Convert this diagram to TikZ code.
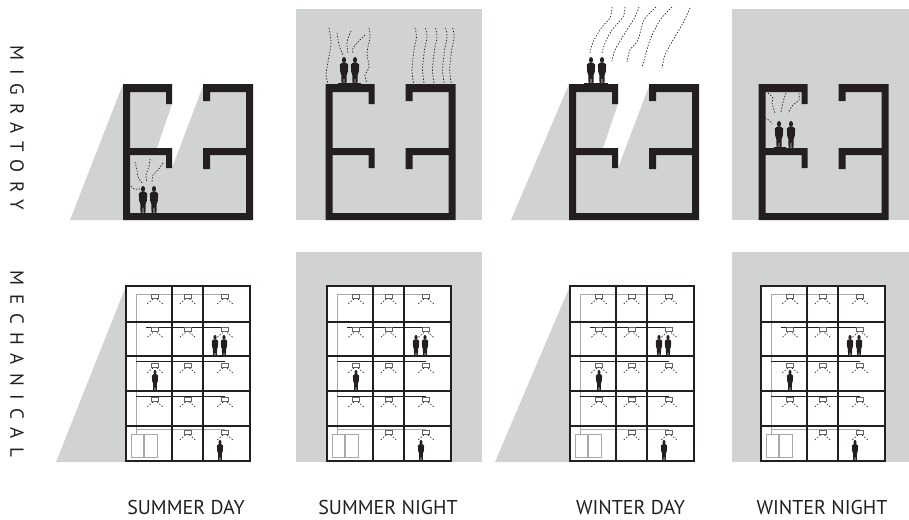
\documentclass[tikz,border=0pt]{standalone}
\usepackage{fontspec}
\setmainfont{PT Sans}
\definecolor{shade}{HTML}{D1D3D2}
\definecolor{ink}{HTML}{231F20}
\definecolor{pipe}{HTML}{A8A8A8}
\tikzset{
  wall/.style={fill=ink,draw=none},
  shadebox/.style={fill=shade,draw=none},
  breeze/.style={draw=ink,line width=.7pt,dash pattern=on 1.4pt off 1.6pt},
  gridline/.style={draw=ink,line width=1.6pt},
  pipeline/.style={draw=pipe,line width=.9pt},
  blackpipe/.style={draw=ink,line width=.7pt},
  caption/.style={font=\fontsize{20}{22}\selectfont,text=ink,inner sep=0pt,anchor=center},
  sidelabel/.style={font=\fontsize{19}{21}\selectfont,text=ink,inner sep=0pt,rotate=-90,anchor=center}
}
\newcommand\person[3]{%
  \begin{scope}[shift={(#1,#2)},x=#3pt,y=#3pt]
    \fill[ink] (-.09,0) -- (-.10,.33) -- (-.14,.45) -- (-.155,.72) -- (-.07,.79) -- (.07,.79) -- (.155,.72) -- (.14,.45) -- (.10,.33) -- (.09,0) -- (.02,0) -- (0,.36) -- (-.02,0) -- cycle;
    \fill[ink] (0,.89) ellipse (.075 and .11);
  \end{scope}}
\newcommand\building[1]{%
  \begin{scope}[xshift=#1pt]
    \fill[wall] (172,104) -- (166,104) -- (166,92) -- (130,92) -- (130,148) -- (172,148) -- (172,168) -- (166,168) -- (166,155) -- (130,155) -- (130,213) -- (246,213) -- (246,155) -- (210,155) -- (210,169) -- (203,169) -- (203,148) -- (246,148) -- (246,92) -- (210,92) -- (210,101) -- (203,101) -- (203,84) -- (253,84) -- (253,220) -- (123,220) -- (123,84) -- (172,84) -- cycle;
  \end{scope}}
\newcommand\acunit[2]{%
  \draw[draw=ink!70,line width=.5pt] (#1-3.5,#2-2) rectangle (#1+3.5,#2+2);
  \draw[breeze,line width=.6pt] (#1-2,#2+3) -- (#1-8,#2+8);
  \draw[breeze,line width=.6pt] (#1+2,#2+3) -- (#1+8,#2+8);}
\newcommand\mechgrid[1]{%
  \begin{scope}[xshift=#1pt]
    \fill[white] (125,286) rectangle (250,461);
    \draw[pipeline] (136,434) -- (136,294) -- (225,294);
    \draw[blackpipe] (146,327.5) -- (225,327.5);
    \draw[blackpipe] (136,361) -- (225,361);
    \draw[blackpipe] (136,396) -- (225,396);
    \draw[pipeline] (136,429) -- (225,429);
    \draw[pipeline] (131,434) rectangle (143,457);
    \draw[pipeline] (144.5,434) rectangle (157,457);
    \foreach \uy in {296,329.5,365,399}{\foreach \ux in {155,187.5,225}{\acunit{\ux}{\uy}}}
    \acunit{187.5}{432}\acunit{225}{432}
    \draw[gridline] (126,286) rectangle (250,461);
    \draw[gridline] (172,286) -- (172,461) (203,286) -- (203,461);
    \draw[gridline] (126,322) -- (250,322) (126,356) -- (250,356) (126,391) -- (250,391) (126,426) -- (250,426);
  \end{scope}
  \person{#1+215}{356}{21}\person{#1+224}{356}{21}
  \person{#1+155}{390}{20}\person{#1+220}{460}{20}}
\begin{document}
\begin{tikzpicture}[x=1pt,y=-1pt]
\useasboundingbox (0,0) rectangle (909,519);
% top row backgrounds
\fill[shadebox] (70,220) -- (123,84) -- (172,84) -- (172,104) -- (157,148) -- (172,148) -- (172,168) -- (203,86) -- (253,84) -- (253,220) -- cycle;
\fill[shadebox] (296,9) rectangle (482,220);
\fill[shadebox] (511,220) -- (569,84) -- (618,84) -- (618,104) -- (603,148) -- (618,148) -- (618,168) -- (649,86) -- (699,84) -- (699,220) -- cycle;
\fill[shadebox] (732,9) rectangle (909,220);
\building{0}\building{202.5}\building{446}\building{635.5}
% people top row
\person{143}{213}{27}\person{154}{213}{27}
\fill[ink] (338,83) rectangle (361,85);
\person{344}{84}{27}\person{355}{84}{27}
\fill[ink] (584,83) rectangle (608,85);
\person{591}{84}{27}\person{602}{84}{27}
\fill[ink] (774,147) rectangle (786,149);
\person{779}{148}{27}\person{791}{148}{27}
% breezes, summer day
\draw[breeze] plot[smooth] coordinates {(131,186) (134,189) (140,189)};
\draw[breeze] plot[smooth] coordinates {(135,162) (137,170) (138,177) (143,184)};
\draw[breeze] plot[smooth] coordinates {(150,159) (149,166) (146,175) (147,182)};
\draw[breeze] plot[smooth] coordinates {(163,163) (158,170) (153,175) (152,183)};
% summer night
\draw[breeze] plot[smooth] coordinates {(329,28) (331,43) (328,62) (326,75) (328,83)};
\draw[breeze] plot[smooth] coordinates {(337,33) (339,45) (343,55)};
\draw[breeze] plot[smooth] coordinates {(351,31) (347,42) (348,53)};
\draw[breeze] plot[smooth] coordinates {(365,35) (358,42) (353,48) (353,54)};
\draw[breeze] plot[smooth] coordinates {(369,28) (370,37) (367,53) (369,67) (365,75) (367,83)};
\foreach \wx in {415,425.5,435.5,445.6,452.7}{
  \draw[breeze] plot[smooth] coordinates {(\wx,28) (\wx+1.5,37) (\wx-1,50) (\wx-3,70) (\wx-1.5,83)};}
% winter day
\draw[breeze] plot[smooth] coordinates {(612,7) (610,18) (602,27) (593,42) (590,53)};
\draw[breeze] plot[smooth] coordinates {(625,7) (623,17) (612,30) (605,43) (602,53)};
\draw[breeze] plot[smooth] coordinates {(639,7) (635,17) (625,33) (615,50) (612,61)};
\draw[breeze] plot[smooth] coordinates {(656,7) (644,20) (638,40) (630,50) (627,62)};
\draw[breeze] plot[smooth] coordinates {(672,7) (660,20) (650,40) (645,57) (642,67)};
\draw[breeze] plot[smooth] coordinates {(690,8) (683,23) (673,40) (665,55) (662,68)};
% winter night
\draw[breeze] plot[smooth] coordinates {(768,93) (773,98) (772,103) (775,113)};
\draw[breeze] plot[smooth] coordinates {(786,93) (783,102) (781,112)};
\draw[breeze] plot[smooth] coordinates {(799,93) (799,100) (793,105) (788,113)};
\draw[breeze] plot[smooth] coordinates {(765,118) (770,121) (772,124)};
% mechanical row
\fill[shadebox] (56,462) -- (126,286) -- (126,462) -- cycle;
\fill[shadebox] (296,252) rectangle (482,462);
\fill[shadebox] (495,462) -- (570,286) -- (570,462) -- cycle;
\fill[shadebox] (732,252) rectangle (909,462);
\mechgrid{0}\mechgrid{201}\mechgrid{444}\mechgrid{635}
% labels
\node[sidelabel] (lmig) at (17,128) {\addfontfeature{LetterSpace=45}MIGRATORY};
\node[sidelabel] (lmech) at (17,364) {\addfontfeature{LetterSpace=45}MECHANICAL};
\node[caption] (c1) at (186,507) {SUMMER DAY};
\node[caption] (c2) at (388,507) {SUMMER NIGHT};
\node[caption] (c3) at (630.5,507) {WINTER DAY};
\node[caption] (c4) at (822,507) {WINTER NIGHT};
\end{tikzpicture}
\end{document}
